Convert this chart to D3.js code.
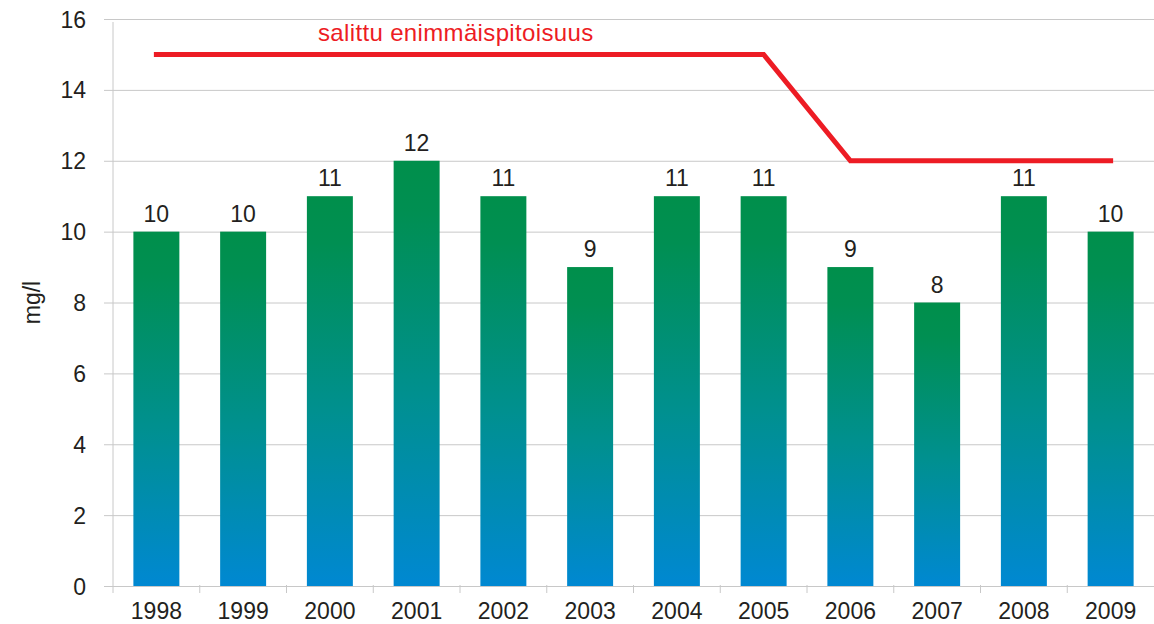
<!DOCTYPE html>
<html>
<head>
<meta charset="utf-8">
<script src="https://cdn.jsdelivr.net/npm/d3@7"></script>
<style>
  body { margin: 0; background: #fff; }
  text { font-family: "Liberation Sans", Arial, sans-serif; fill: #231f20; }
</style>
</head>
<body>
<svg id="chart" width="1154" height="624"></svg>
<script>
// data
const years = ['1998', '1999', '2000', '2001', '2002', '2003', '2004', '2005', '2006', '2007', '2008', '2009']
const values = [10, 10, 11, 12, 11, 9, 11, 11, 9, 8, 11, 10]
const limits = [15, 15, 15, 15, 15, 15, 15, 15, 12, 12, 12, 12]
const yTicks = [0, 2, 4, 6, 8, 10, 12, 14, 16]
const limitLabel = 'salittu enimmäispitoisuus'
const yTitle = 'mg/l'

const width = 1154
const height = 624
const margin = {top: 19, right: 0, bottom: 38, left: 113}
const gridColor = '#c8c8c8'

const svg = d3.select('#chart')

const x = d3.scaleBand()
  .domain(years)
  .range([margin.left, width - margin.right])
  .paddingInner(0.47)
  .paddingOuter(0.235)

const band = d3.scaleBand()
  .domain(years)
  .range([margin.left, width - margin.right])

const y = d3.scaleLinear()
  .domain([0, 16])
  .range([height - margin.bottom, margin.top])

// bar gradient, one per bar: green at top, blue at bottom
const grad = svg.append('defs').append('linearGradient')
  .attr('id', 'barGrad')
  .attr('x1', 0).attr('y1', 0).attr('x2', 0).attr('y2', 1)
grad.append('stop').attr('offset', 0).attr('stop-color', '#008f4b')
grad.append('stop').attr('offset', 0.12).attr('stop-color', '#008f52')
grad.append('stop').attr('offset', 0.55).attr('stop-color', '#00908f')
grad.append('stop').attr('offset', 1).attr('stop-color', '#0088d2')

// horizontal grid + y labels
const yAxis = svg.append('g')
  .attr('transform', `translate(${margin.left},0)`)
  .call(d3.axisLeft(y).tickValues(yTicks).tickSize(-(width - margin.left - margin.right)).tickPadding(0).tickFormat(d3.format('d')))
yAxis.select('.domain').remove()
yAxis.selectAll('.tick line')
  .attr('stroke', gridColor)
  .attr('x1', -9)
yAxis.selectAll('.tick text')
  .attr('x', -27)
  .attr('dy', '0.35em')
  .style('font-size', '23px')
  .attr('fill', '#231f20')

// vertical axis line
svg.append('line')
  .attr('x1', margin.left).attr('x2', margin.left)
  .attr('y1', margin.top + 3).attr('y2', y(0) + 7)
  .attr('stroke', gridColor)

// bars
svg.append('g').selectAll('rect')
  .data(values)
  .join('rect')
  .attr('x', (d, i) => x(years[i]))
  .attr('width', x.bandwidth())
  .attr('y', d => y(d))
  .attr('height', d => y(0) - y(d))
  .attr('fill', 'url(#barGrad)')

// x axis with category separators
const xAxis = svg.append('g')
  .attr('transform', `translate(0,${y(0)})`)
  .call(d3.axisBottom(band).tickSize(0).tickPadding(17))
xAxis.select('.domain').attr('stroke', gridColor)
xAxis.selectAll('.tick text')
  .style('font-size', '23px')
  .attr('fill', '#231f20')
xAxis.selectAll('.sep')
  .data(years.slice(1))
  .join('line')
  .attr('class', 'sep')
  .attr('x1', d => band(d)).attr('x2', d => band(d))
  .attr('y1', -1).attr('y2', 7)
  .attr('stroke', gridColor)

// value labels
svg.append('g').selectAll('text')
  .data(values)
  .join('text')
  .attr('x', (d, i) => x(years[i]) + x.bandwidth() / 2)
  .attr('y', d => y(d) - 10)
  .attr('text-anchor', 'middle')
  .style('font-size', '23px')
  .text(d => d)

// limit line
const line = d3.line()
  .x((d, i) => band(years[i]) + band.bandwidth() / 2)
  .y(d => y(d))
svg.append('path')
  .datum(limits)
  .attr('d', line)
  .attr('fill', 'none')
  .attr('stroke', '#ed1c24')
  .attr('stroke-width', 5)
  .attr('stroke-linecap', 'square')

svg.append('text')
  .attr('x', 318)
  .attr('y', 41)
  .style('font-size', '24px')
  .style('letter-spacing', '0.35px')
  .style('fill', '#ed1c24')
  .text(limitLabel)

// y title
svg.append('text')
  .attr('transform', `translate(40,${(y(0) + y(16)) / 2}) rotate(-90)`)
  .attr('text-anchor', 'middle')
  .style('font-size', '23px')
  .text(yTitle)
</script>
</body>
</html>
